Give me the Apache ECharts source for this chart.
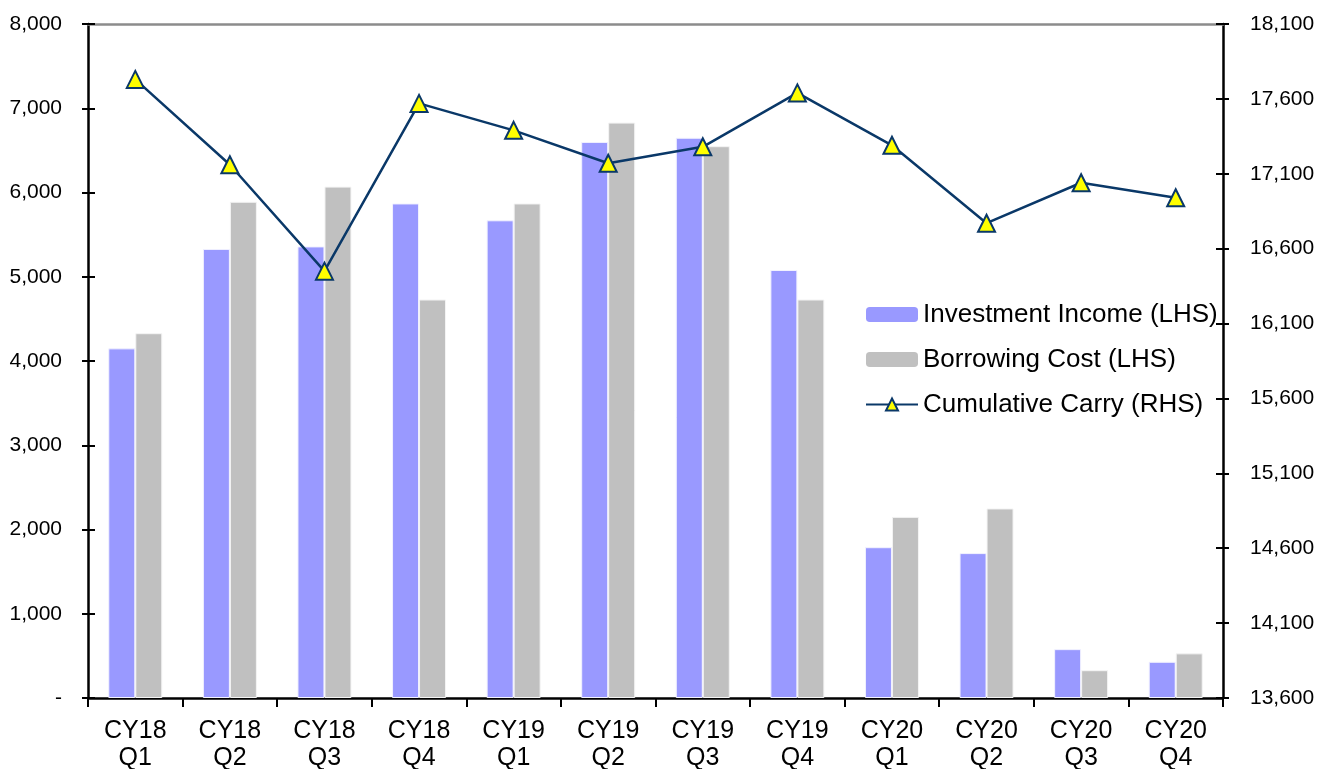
<!DOCTYPE html>
<html>
<head>
<meta charset="utf-8">
<script src="https://cdn.jsdelivr.net/npm/echarts@6/dist/echarts.min.js"></script>
<style>html,body{margin:0;padding:0;background:#fff}#c{width:1318px;height:769px}</style>
</head>
<body>
<div id="c"></div>
<script>
const categories = ['CY18\nQ1','CY18\nQ2','CY18\nQ3','CY18\nQ4','CY19\nQ1','CY19\nQ2','CY19\nQ3','CY19\nQ4','CY20\nQ1','CY20\nQ2','CY20\nQ3','CY20\nQ4'];
const investmentIncome = [4150, 5330, 5360, 5870, 5670, 6600, 6650, 5080, 1790, 1720, 580, 430];
const borrowingCost = [4330, 5890, 6070, 4730, 5870, 6830, 6550, 4730, 2150, 2250, 330, 530];
const cumulativeCarry = [17730, 17160, 16450, 17570, 17390, 17170, 17280, 17640, 17290, 16770, 17040, 16940];
const leftAxis = {min: 0, max: 8000, interval: 1000};
const rightAxis = {min: 13600, max: 18100, interval: 500};

const fmt = v => v === 0 ? '-' : v.toLocaleString('en-US');
const font = 'Liberation Sans, Arial, sans-serif';
const chart = echarts.init(document.getElementById('c'));
const axisLine = {show: true, onZero: false, lineStyle: {color: '#000', width: 2.5}};
chart.setOption({
  animation: false,
  grid: {left: 88, right: 95, top: 24, bottom: 71, containLabel: false, outerBoundsMode: 'none'},
  legend: {
    orient: 'vertical', left: 860, top: 294, itemGap: 14,
    itemWidth: 52, itemHeight: 15,
    textStyle: {fontFamily: font, fontSize: 26, color: '#000', lineHeight: 31},
    data: [
      {name: 'Investment Income (LHS)', itemStyle: {borderWidth: 0}},
      {name: 'Borrowing Cost (LHS)', itemStyle: {borderWidth: 0}},
      {name: 'Cumulative Carry (RHS)'}
    ]
  },
  xAxis: [{
    type: 'category', data: categories, position: 'bottom',
    axisLine: axisLine,
    axisTick: {show: true, length: 9, lineStyle: {color: '#000', width: 2}},
    axisLabel: {fontFamily: font, fontSize: 25, color: '#000', lineHeight: 27, margin: 20},
    splitLine: {show: false}
  }, {
    type: 'category', data: categories, position: 'top',
    axisLine: {show: true, onZero: false, lineStyle: {color: '#8c8c8c', width: 2.5}},
    axisTick: {show: false}, axisLabel: {show: false}
  }],
  yAxis: [{
    type: 'value', position: 'left', min: leftAxis.min, max: leftAxis.max, interval: leftAxis.interval,
    axisLine: axisLine,
    axisTick: {show: true, length: 6, lineStyle: {color: '#000', width: 2}},
    axisLabel: {fontFamily: font, fontSize: 21, color: '#000', margin: 26, formatter: fmt},
    splitLine: {show: false}
  }, {
    type: 'value', position: 'right', min: rightAxis.min, max: rightAxis.max, interval: rightAxis.interval,
    axisLine: axisLine,
    axisTick: {show: true, length: 6, lineStyle: {color: '#000', width: 2}},
    axisLabel: {fontFamily: font, fontSize: 21, color: '#000', margin: 27, formatter: fmt},
    splitLine: {show: false}
  }, {
    type: 'value', position: 'left', min: leftAxis.min, max: leftAxis.max, interval: leftAxis.interval,
    axisLine: {show: false},
    axisTick: {show: true, inside: true, length: 7, lineStyle: {color: '#000', width: 2}},
    axisLabel: {show: false}, splitLine: {show: false}
  }, {
    type: 'value', position: 'right', min: rightAxis.min, max: rightAxis.max, interval: rightAxis.interval,
    axisLine: {show: false},
    axisTick: {show: true, inside: true, length: 7, lineStyle: {color: '#000', width: 2}},
    axisLabel: {show: false}, splitLine: {show: false}
  }],
  series: [{
    name: 'Investment Income (LHS)', type: 'bar', data: investmentIncome,
    yAxisIndex: 0, barWidth: 27, barGap: '0%',
    itemStyle: {color: '#9999ff', borderColor: '#f2f2ff', borderWidth: 1}
  }, {
    name: 'Borrowing Cost (LHS)', type: 'bar', data: borrowingCost,
    yAxisIndex: 0, barWidth: 27, barGap: '0%',
    itemStyle: {color: '#c0c0c0', borderColor: '#f4f4f4', borderWidth: 1}
  }, {
    name: 'Cumulative Carry (RHS)', type: 'line', data: cumulativeCarry,
    yAxisIndex: 1, symbol: 'triangle', symbolSize: 17,
    lineStyle: {color: '#0a3868', width: 2.5},
    itemStyle: {color: '#ffff00', borderColor: '#0a3868', borderWidth: 2},
    z: 5
  }]
});
</script>
</body>
</html>
